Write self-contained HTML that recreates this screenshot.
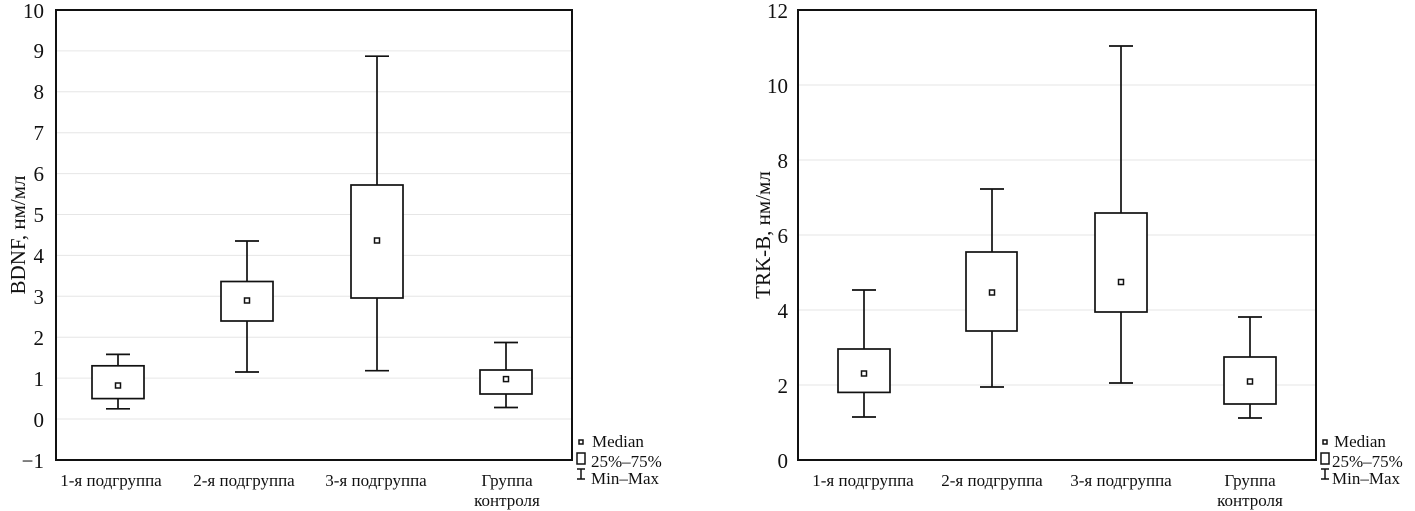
<!DOCTYPE html>
<html><head><meta charset="utf-8"><style>
html,body{margin:0;padding:0;background:#fff;}
svg{display:block;font-family:"Liberation Serif",serif;}
</style></head><body>
<svg width="1415" height="511" viewBox="0 0 1415 511" xmlns="http://www.w3.org/2000/svg">
<g id="L">
<g stroke="#e6e6e6" stroke-width="1">
<line x1="57" x2="572" y1="50.9" y2="50.9"/><line x1="57" x2="572" y1="91.8" y2="91.8"/>
<line x1="57" x2="572" y1="132.7" y2="132.7"/><line x1="57" x2="572" y1="173.6" y2="173.6"/>
<line x1="57" x2="572" y1="214.5" y2="214.5"/><line x1="57" x2="572" y1="255.4" y2="255.4"/>
<line x1="57" x2="572" y1="296.3" y2="296.3"/><line x1="57" x2="572" y1="337.2" y2="337.2"/>
<line x1="57" x2="572" y1="378.1" y2="378.1"/><line x1="57" x2="572" y1="419" y2="419"/>
</g>
<rect x="56" y="10" width="516" height="450" fill="none" stroke="#111" stroke-width="2"/>
<g font-size="21" text-anchor="end" fill="#111">
<text x="44" y="18">10</text><text x="44" y="58">9</text><text x="44" y="99">8</text><text x="44" y="140">7</text>
<text x="44" y="181">6</text><text x="44" y="222">5</text><text x="44" y="263">4</text><text x="44" y="304">3</text>
<text x="44" y="345">2</text><text x="44" y="386">1</text><text x="44" y="427">0</text><text x="44" y="468">−1</text>
</g>
<text transform="translate(25,235) rotate(-90)" font-size="21" text-anchor="middle" fill="#111">BDNF, нм/мл</text>
<g font-size="17" text-anchor="middle" fill="#111">
<text x="111" y="486">1-я подгруппа</text><text x="244" y="486">2-я подгруппа</text><text x="376" y="486">3-я подгруппа</text>
<text x="507" y="486">Группа</text><text x="507" y="506">контроля</text>
</g>
<g stroke="#111" stroke-width="1.7" fill="none">
<line x1="118" x2="118" y1="354.4" y2="408.8"/><line x1="106" x2="130" y1="354.4" y2="354.4"/><line x1="106" x2="130" y1="408.8" y2="408.8"/><rect x="92" y="365.8" width="52" height="32.8" fill="#fff"/>
<line x1="247" x2="247" y1="241" y2="372"/><line x1="235" x2="259" y1="241" y2="241"/><line x1="235" x2="259" y1="372" y2="372"/><rect x="221" y="281.5" width="52" height="39.5" fill="#fff"/>
<line x1="377" x2="377" y1="56.2" y2="370.7"/><line x1="365" x2="389" y1="56.2" y2="56.2"/><line x1="365" x2="389" y1="370.7" y2="370.7"/><rect x="351" y="185" width="52" height="113" fill="#fff"/>
<line x1="506" x2="506" y1="342.5" y2="407.5"/><line x1="494" x2="518" y1="342.5" y2="342.5"/><line x1="494" x2="518" y1="407.5" y2="407.5"/><rect x="480" y="370" width="52" height="24" fill="#fff"/>
</g>
<g fill="#fff" stroke="#111" stroke-width="1.5">
<rect x="115.5" y="383" width="5" height="5"/><rect x="244.5" y="298" width="5" height="5"/><rect x="374.5" y="238" width="5" height="5"/><rect x="503.5" y="376.6" width="5" height="5"/>
</g>
<rect x="579" y="440" width="4" height="4" fill="#fff" stroke="#111" stroke-width="1.5"/>
<rect x="577" y="453" width="8" height="11" fill="#fff" stroke="#111" stroke-width="1.5"/>
<g stroke="#111" stroke-width="1.5"><line x1="581" x2="581" y1="469" y2="479"/><line x1="577" x2="585" y1="469" y2="469"/><line x1="577" x2="585" y1="479" y2="479"/></g>
<g font-size="17" fill="#111"><text x="592" y="447">Median</text><text x="591" y="467">25%–75%</text><text x="591" y="484">Min–Max</text></g>
</g>

<g id="R">
<g stroke="#e6e6e6" stroke-width="1">
<line x1="798" x2="1316" y1="85" y2="85"/><line x1="798" x2="1316" y1="160" y2="160"/>
<line x1="798" x2="1316" y1="235" y2="235"/><line x1="798" x2="1316" y1="310" y2="310"/>
<line x1="798" x2="1316" y1="385" y2="385"/>
</g>
<rect x="798" y="10" width="518" height="450" fill="none" stroke="#111" stroke-width="2"/>
<g font-size="21" text-anchor="end" fill="#111">
<text x="788" y="18">12</text><text x="788" y="93">10</text><text x="788" y="168">8</text><text x="788" y="243">6</text>
<text x="788" y="318">4</text><text x="788" y="393">2</text><text x="788" y="468">0</text>
</g>
<text transform="translate(770,235) rotate(-90)" font-size="21" text-anchor="middle" fill="#111">TRK-B, нм/мл</text>
<g font-size="17" text-anchor="middle" fill="#111">
<text x="863" y="486">1-я подгруппа</text><text x="992" y="486">2-я подгруппа</text><text x="1121" y="486">3-я подгруппа</text>
<text x="1250" y="486">Группа</text><text x="1250" y="506">контроля</text>
</g>
<g stroke="#111" stroke-width="1.7" fill="none">
<line x1="864" x2="864" y1="290" y2="417"/><line x1="852" x2="876" y1="290" y2="290"/><line x1="852" x2="876" y1="417" y2="417"/><rect x="838" y="349" width="52" height="43.4" fill="#fff"/>
<line x1="992" x2="992" y1="189" y2="387"/><line x1="980" x2="1004" y1="189" y2="189"/><line x1="980" x2="1004" y1="387" y2="387"/><rect x="966" y="252" width="51" height="79" fill="#fff"/>
<line x1="1121" x2="1121" y1="46" y2="383"/><line x1="1109" x2="1133" y1="46" y2="46"/><line x1="1109" x2="1133" y1="383" y2="383"/><rect x="1095" y="213" width="52" height="99" fill="#fff"/>
<line x1="1250" x2="1250" y1="317" y2="418"/><line x1="1238" x2="1262" y1="317" y2="317"/><line x1="1238" x2="1262" y1="418" y2="418"/><rect x="1224" y="357" width="52" height="47" fill="#fff"/>
</g>
<g fill="#fff" stroke="#111" stroke-width="1.5">
<rect x="861.5" y="371" width="5" height="5"/><rect x="989.5" y="290" width="5" height="5"/><rect x="1118.5" y="279.5" width="5" height="5"/><rect x="1247.5" y="379" width="5" height="5"/>
</g>
<rect x="1323" y="440" width="4" height="4" fill="#fff" stroke="#111" stroke-width="1.5"/>
<rect x="1321" y="453" width="8" height="11" fill="#fff" stroke="#111" stroke-width="1.5"/>
<g stroke="#111" stroke-width="1.5"><line x1="1325" x2="1325" y1="469" y2="479"/><line x1="1321" x2="1329" y1="469" y2="469"/><line x1="1321" x2="1329" y1="479" y2="479"/></g>
<g font-size="17" fill="#111"><text x="1334" y="447">Median</text><text x="1332" y="467">25%–75%</text><text x="1332" y="484">Min–Max</text></g>
</g>
</svg>
</body></html>
